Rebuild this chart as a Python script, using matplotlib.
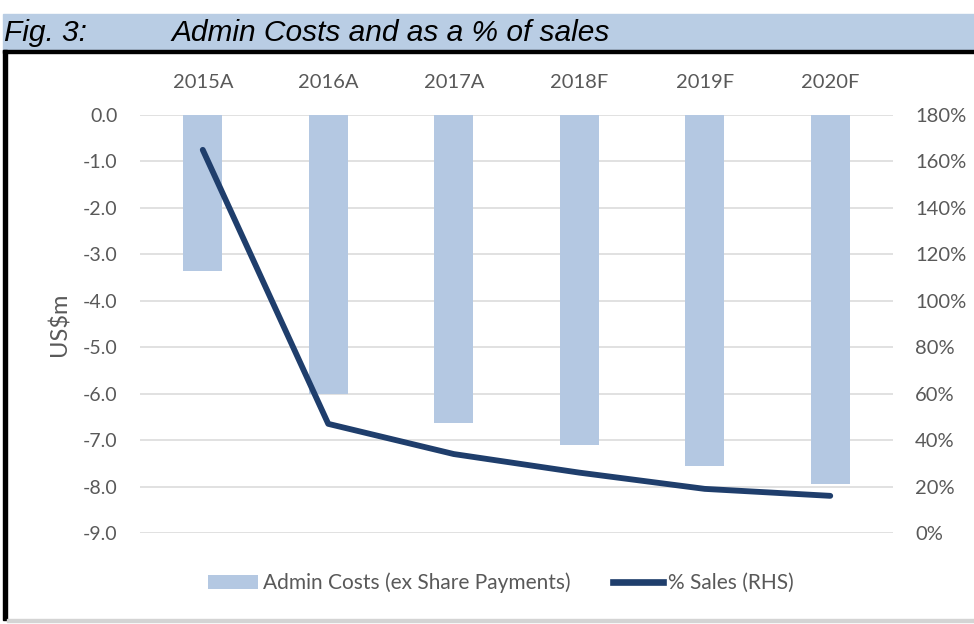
import matplotlib
matplotlib.use("Agg")
import matplotlib.pyplot as plt
from matplotlib.patches import Rectangle, Patch
from matplotlib.lines import Line2D
from matplotlib.ticker import FormatStrFormatter, PercentFormatter, MultipleLocator

plt.rcParams["axes.unicode_minus"] = False
plt.rcParams["font.family"] = ["Lato", "DejaVu Sans"]

# ---- data ----
years = ["2015A", "2016A", "2017A", "2018F", "2019F", "2020F"]
admin_costs = [-3.35, -6.0, -6.63, -7.1, -7.55, -7.95]   # US$m
pct_sales = [1.65, 0.47, 0.34, 0.26, 0.19, 0.16]         # share of sales

title_fig = "Fig. 3:"
title_text = "Admin Costs and as a % of sales"
bar_label = "Admin Costs (ex Share Payments)"
line_label = "% Sales (RHS)"
y_label = "US$m"

# ---- styles ----
BAR_C = "#B4C8E2"
LINE_C = "#1F3E6C"
GRID_C = "#D9D9D9"
TXT_C = "#595959"
BAND_C = "#B9CDE4"

W, H = 974, 624
fig = plt.figure(figsize=(W / 100, H / 100), dpi=100)


def fx(px):
    return px / W


def fy(py):
    return 1 - py / H


# header band and frame
fig.patches.append(Rectangle((fx(3), fy(50)), fx(W - 3), 36 / H,
                             transform=fig.transFigure, color=BAND_C, zorder=0))
fig.patches.append(Rectangle((fx(3), fy(53)), fx(W - 3), 3 / H,
                             transform=fig.transFigure, color="black", zorder=1))
fig.patches.append(Rectangle((fx(3), fy(620)), fx(4), 570 / H,
                             transform=fig.transFigure, color="black", zorder=1))
fig.patches.append(Rectangle((fx(7), fy(622)), fx(W - 7), 3 / H,
                             transform=fig.transFigure, color="#D4D4D4", zorder=1))

title_kw = dict(family=["Liberation Sans", "DejaVu Sans"], style="italic",
                fontsize=21.5, color="black", va="baseline", ha="left")
fig.text(fx(4), fy(41), title_fig, **title_kw)
fig.text(fx(171), fy(41), title_text, **title_kw)

# ---- chart ----
ax = fig.add_axes([fx(140), fy(533), fx(753), 418 / H])
x = range(len(years))
ax.bar(x, admin_costs, width=0.31, color=BAR_C, zorder=2)
ax.set_xlim(-0.5, len(years) - 0.5)
ax.set_ylim(-9, 0)
ax.yaxis.set_major_locator(MultipleLocator(1))
ax.yaxis.set_major_formatter(FormatStrFormatter("%.1f"))
ax.set_xticks(list(x))
ax.set_xticklabels(years)
ax.xaxis.tick_top()
ax.grid(axis="y", color=GRID_C, lw=1.1, zorder=0)
ax.set_axisbelow(True)
for s in ax.spines.values():
    s.set_visible(False)
ax.tick_params(axis="x", length=0, pad=17, labelsize=14.5, labelcolor=TXT_C)
ax.tick_params(axis="y", length=0, pad=16, labelsize=14, labelcolor=TXT_C)
ax.set_ylabel(y_label, fontsize=17, color=TXT_C, labelpad=9)

ax2 = ax.twinx()
ax2.plot(list(x), pct_sales, color=LINE_C, lw=4.2, solid_capstyle="round",
         solid_joinstyle="round", zorder=3)
ax2.set_ylim(0, 1.8)
ax2.yaxis.set_major_locator(MultipleLocator(0.2))
ax2.yaxis.set_major_formatter(PercentFormatter(1.0, decimals=0))
for s in ax2.spines.values():
    s.set_visible(False)
ax2.tick_params(axis="y", length=0, pad=16, labelsize=14.5, labelcolor=TXT_C)

handles = [Patch(facecolor=BAR_C, edgecolor="none", label=bar_label),
           Line2D([], [], color=LINE_C, lw=4.8, label=line_label)]
leg = fig.legend(handles=handles, loc="center", bbox_to_anchor=(fx(501), fy(583)),
                 ncol=2, frameon=False, fontsize=15, handlelength=2.4,
                 handleheight=0.6, handletextpad=0.25, columnspacing=2.0,
                 labelcolor=TXT_C)

fig.savefig("out.png", dpi=100, facecolor="white")
